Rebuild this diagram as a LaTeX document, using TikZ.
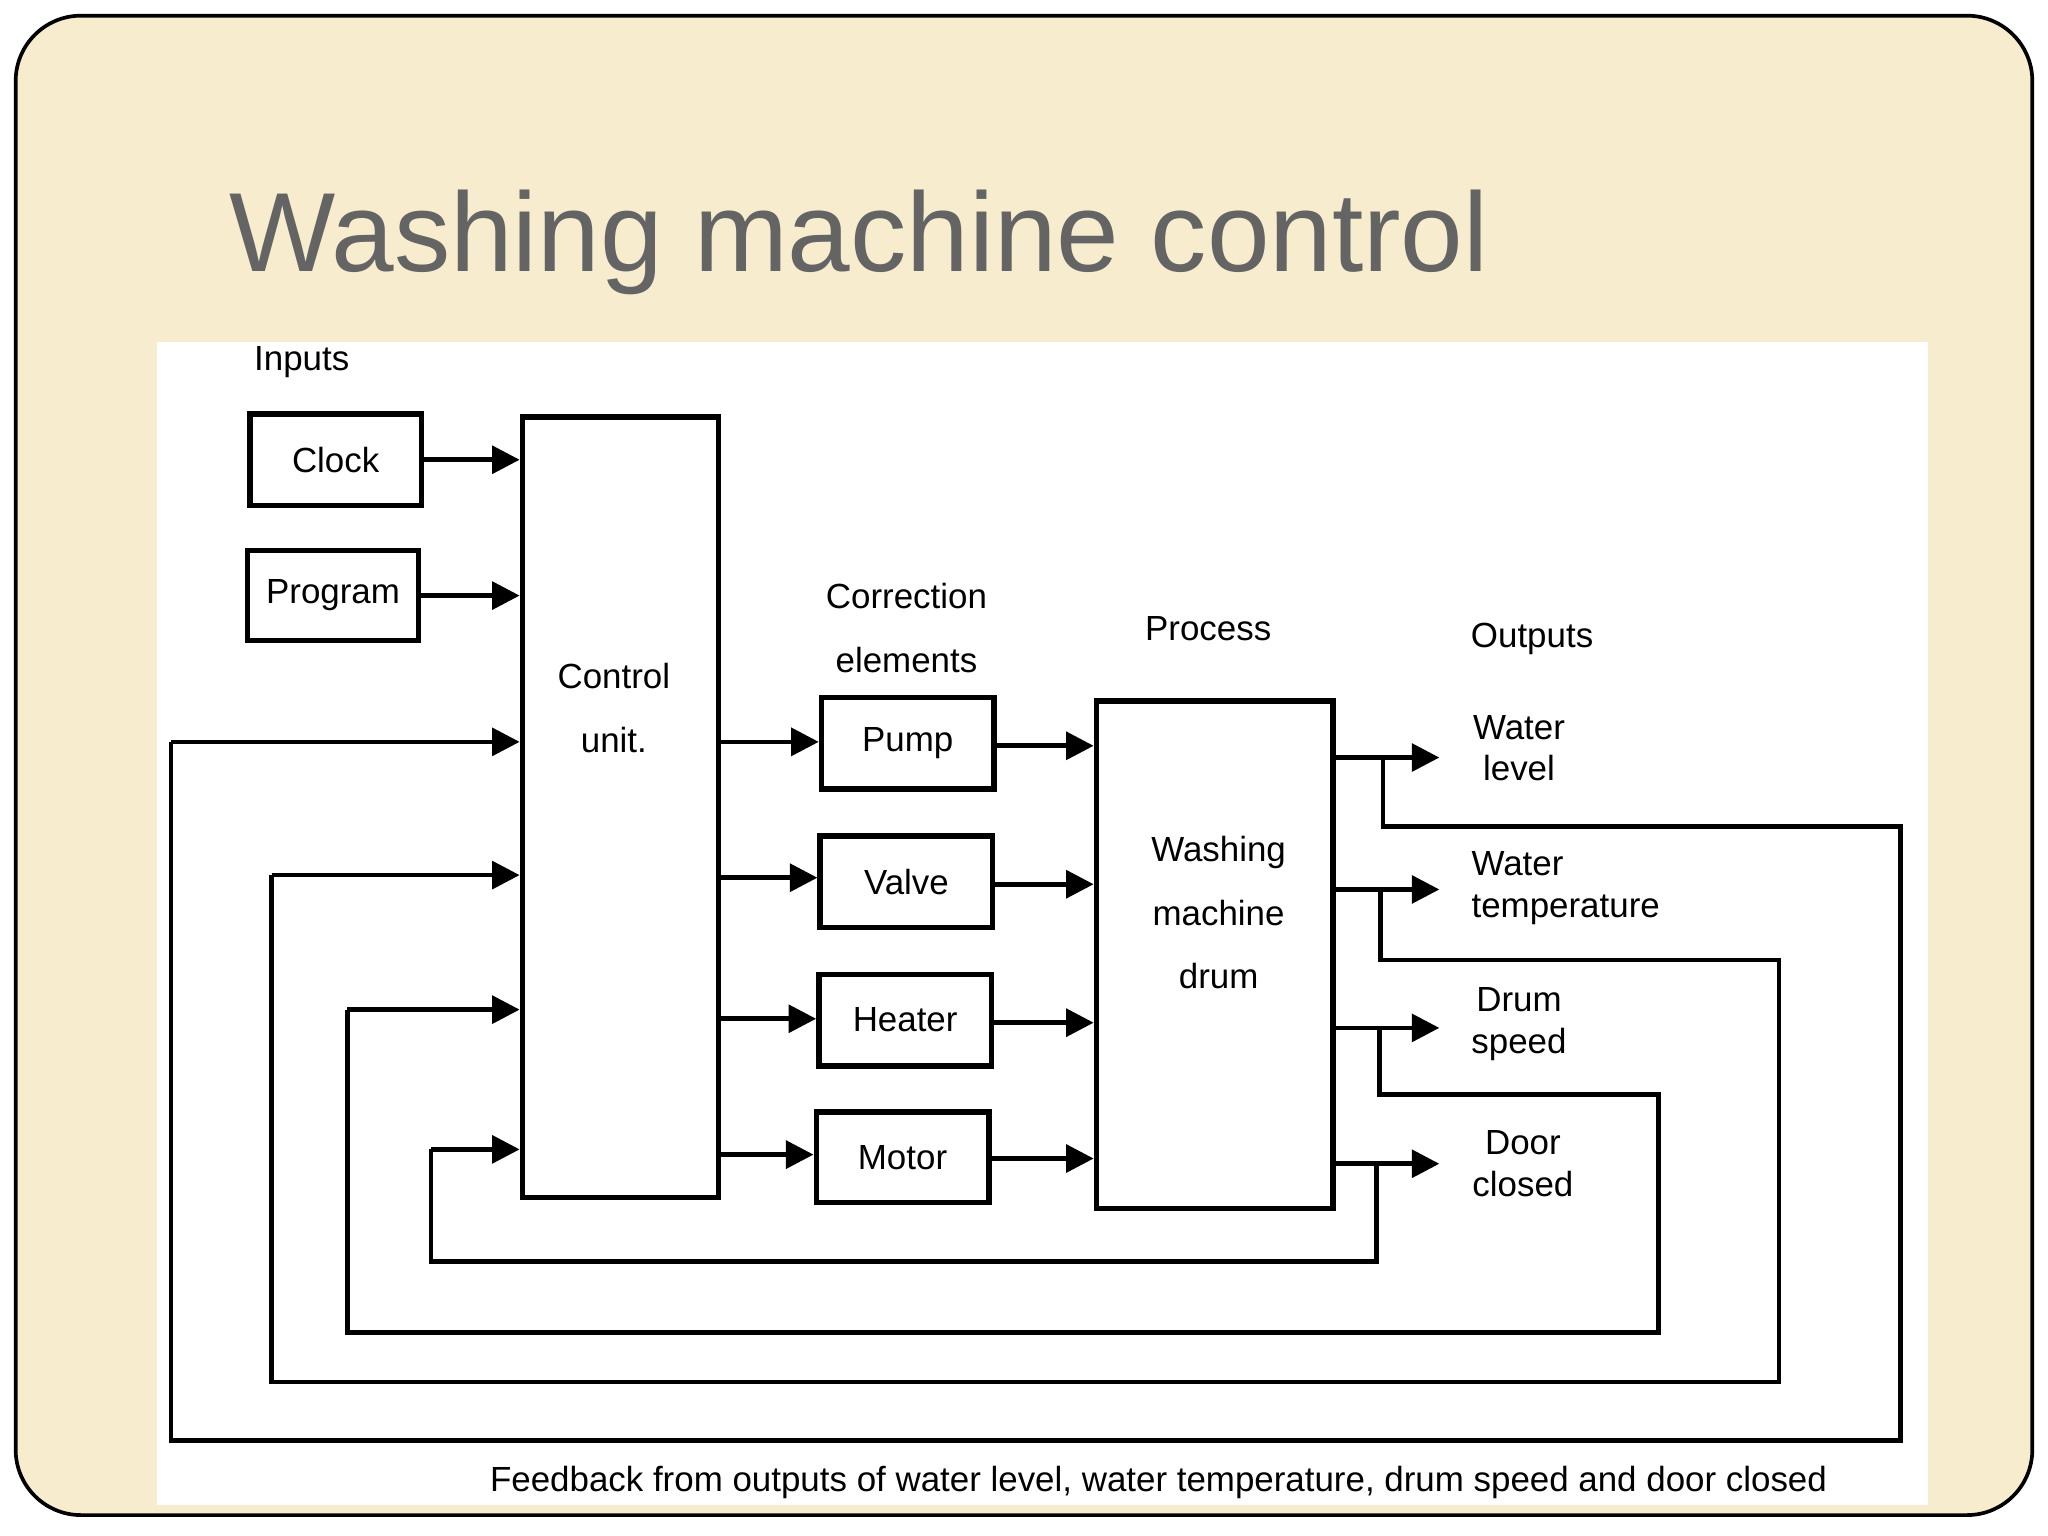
\documentclass[tikz,border=0pt]{standalone}
\usepackage{fontspec}
\setmainfont{Liberation Sans}
\usetikzlibrary{arrows.meta,positioning,calc}
\definecolor{paper}{RGB}{247, 236, 205}
\definecolor{titlegray}{RGB}{100, 100, 100}
\tikzset{
  blk/.style={rectangle, draw, line width=1.2pt, fill=white, font=\fontsize{7.6}{9}\selectfont},
  lbl/.style={font=\fontsize{7.6}{9}\selectfont, align=center, inner sep=0pt},
  flow/.style={-{Triangle[length=6pt,width=6pt]}, line width=1pt},
  fb/.style={line width=1pt}
}
\begin{document}
\begin{tikzpicture}[x=0.01cm, y=-0.01cm]
    \useasboundingbox (0,0) rectangle (1568,1176);
    % Slide background
    \fill[white] (0,0) rectangle (1568,1176);
    \draw[fill=paper, rounded corners=0.5cm, line width=0.8pt] (12,12) rectangle (1556,1160);
    \node[anchor=base west, text=titlegray, font=\fontsize{24.5}{26}\selectfont, inner sep=0pt] (title) at (175,208) {Washing machine control};
    \fill[white] (120,262) rectangle (1476,1152);

    % Inputs
    \node[lbl] (inputs) at (231,277) {Inputs};
    \node[blk, minimum width=1.31cm, minimum height=0.70cm] (clock) at (257,352) {Clock};
    \node[blk, minimum width=1.31cm, minimum height=0.69cm] (program) at (255,456) {Program};

    % Control unit
    \node[blk, minimum width=1.50cm, minimum height=5.97cm] (ctrl) at (475,618) {};
    \node[lbl] (ctrltext) at (470,542) {Control\\[1.2ex] unit.};

    % Correction elements
    \node[lbl] (corr) at (694,481) {Correction\\[1.2ex] elements};
    \node[blk, minimum width=1.32cm, minimum height=0.70cm] (pump) at (695,569) {Pump};
    \node[blk, minimum width=1.32cm, minimum height=0.70cm] (valve) at (694,675) {Valve};
    \node[blk, minimum width=1.32cm, minimum height=0.70cm] (heater) at (693,781) {Heater};
    \node[blk, minimum width=1.32cm, minimum height=0.69cm] (motor) at (691,886) {Motor};

    % Process
    \node[lbl] (process) at (925,481) {Process};
    \node[blk, minimum width=1.81cm, minimum height=3.88cm] (drum) at (930,731) {};
    \node[lbl] (drumtext) at (933,699) {Washing\\[1.2ex] machine\\[1.2ex] drum};

    % Outputs
    \node[lbl] (outputs) at (1173,489) {Outputs};
    \node[lbl] (level) at (1163,573) {Water\\ level};
    \node[lbl, align=left, anchor=west] (temp) at (1126,680) {Water\\ temperature};
    \node[lbl] (speed) at (1163,784) {Drum\\ speed};
    \node[lbl] (door) at (1166,891) {Door\\ closed};
    \node[lbl] (feedback) at (887,1135) {Feedback from outputs of water level, water temperature, drum speed and door closed};

    % Inputs to control unit
    \draw[flow] (clock.east) -- (clock.east -| ctrl.west);
    \draw[flow] (program.east) -- (program.east -| ctrl.west);

    % Control unit to correction elements to drum
    \foreach \el/\ya/\yb in {pump/568/571, valve/672/677, heater/780/783, motor/884/887} {
        \draw[flow] (ctrl.east |- 0,\ya) -- (\el.west |- 0,\ya);
        \draw[flow] (\el.east |- 0,\yb) -- (drum.west |- 0,\yb);
    }

    % Drum to outputs
    \draw[flow] (drum.east |- 0,580) -- (1102,580);
    \draw[flow] (drum.east |- 0,681) -- (1102,681);
    \draw[flow] (drum.east |- 0,787) -- (1102,787);
    \draw[flow] (drum.east |- 0,891) -- (1102,891);

    % Feedback loops
    \draw[fb] (1059,580) -- (1059,633) -- (1455,633) -- (1455,1103) -- (131,1103) -- (131,568);
    \draw[flow] (131,568) -- (ctrl.west |- 0,568);
    \draw[fb] (1057,681) -- (1057,735) -- (1362,735) -- (1362,1058) -- (208,1058) -- (208,670);
    \draw[flow] (208,670) -- (ctrl.west |- 0,670);
    \draw[fb] (1056,787) -- (1056,838) -- (1270,838) -- (1270,1020) -- (266,1020) -- (266,773);
    \draw[flow] (266,773) -- (ctrl.west |- 0,773);
    \draw[fb] (1054,891) -- (1054,966) -- (330,966) -- (330,880);
    \draw[flow] (330,880) -- (ctrl.west |- 0,880);
\end{tikzpicture}
\end{document}
